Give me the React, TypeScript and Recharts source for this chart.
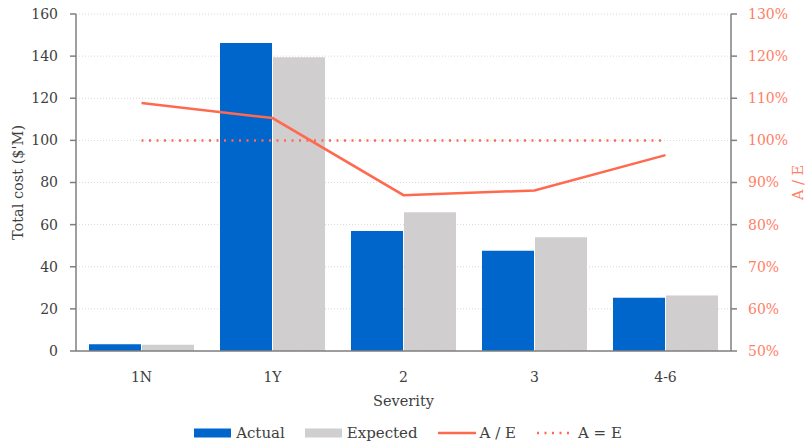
import {
  ComposedChart,
  Bar,
  Line,
  XAxis,
  YAxis,
  CartesianGrid,
  Legend,
} from 'recharts';

const categories = ['1N', '1Y', '2', '3', '4-6'];
const actual = [3.2, 146.2, 57, 47.6, 25.3];
const expected = [2.95, 139.5, 65.9, 54, 26.3];
const ratioPct = [108.9, 105.3, 87.0, 88.1, 96.5];
const parityPct = [100, 100, 100, 100, 100];

const leftTicks = [0, 20, 40, 60, 80, 100, 120, 140, 160];
const rightTicks = [50, 60, 70, 80, 90, 100, 110, 120, 130];

const data = categories.map((name, i) => ({
  name,
  actual: actual[i],
  expected: expected[i],
  ratio: ratioPct[i],
  parity: parityPct[i],
}));

const FONT = '"DejaVu Serif", serif';
const BLUE = '#0066CC';
const GREY = '#D0CECE';
const RED = '#FF6A4F';
const RED_TEXT = '#FF7E66';
const AXIS = '#7F7F7F';
const TEXT = '#404040';

// axis titles
const LeftTitle = ({ viewBox }: any) => {
  const cx = 18;
  const cy = viewBox.y + viewBox.height / 2;
  return (
    <text
      x={cx}
      y={cy}
      transform={`rotate(-90 ${cx} ${cy})`}
      textAnchor="middle"
      dominantBaseline="central"
      fontFamily={FONT}
      fontSize={14.5}
      fill={TEXT}
    >
      Total cost ($'M)
    </text>
  );
};

const RightTitle = ({ viewBox }: any) => {
  const cx = 798;
  const cy = viewBox.y + viewBox.height / 2;
  return (
    <text
      x={cx}
      y={cy}
      transform={`rotate(-90 ${cx} ${cy})`}
      textAnchor="middle"
      dominantBaseline="central"
      fontFamily={FONT}
      fontSize={14.5}
      fill={RED_TEXT}
    >
      A / E
    </text>
  );
};

const BottomTitle = ({ viewBox }: any) => (
  <text
    x={viewBox.x + viewBox.width / 2}
    y={viewBox.y + 55}
    textAnchor="middle"
    fontFamily={FONT}
    fontSize={14.5}
    fill={TEXT}
  >
    Severity
  </text>
);

const legendItems = [
  { name: 'Actual', kind: 'rect', color: BLUE },
  { name: 'Expected', kind: 'rect', color: GREY },
  { name: 'A / E', kind: 'line', color: RED },
  { name: 'A = E', kind: 'dots', color: RED },
];

const ChartLegend = () => (
  <div
    style={{
      display: 'flex',
      justifyContent: 'center',
      alignItems: 'center',
      height: 26,
      fontFamily: FONT,
      fontSize: 15,
      color: TEXT,
      paddingLeft: 8,
    }}
  >
    {legendItems.map((item) => (
      <div
        key={item.name}
        style={{ display: 'flex', alignItems: 'center', margin: '0 10px' }}
      >
        <svg width={38} height={12} style={{ marginRight: 4 }}>
          {item.kind === 'rect' && (
            <rect x={0} y={1.5} width={37} height={9} fill={item.color} />
          )}
          {item.kind === 'line' && (
            <line x1={0} y1={6} x2={38} y2={6} stroke={item.color} strokeWidth={2.5} />
          )}
          {item.kind === 'dots' && (
            <line
              x1={1}
              y1={6}
              x2={38}
              y2={6}
              stroke={item.color}
              strokeWidth={2.5}
              strokeDasharray="2 5.5"
            />
          )}
        </svg>
        <span>{item.name}</span>
      </div>
    ))}
  </div>
);

export default function App() {
  return (
    <div style={{ position: 'absolute', left: 0, top: 0, background: '#fff' }}>
      <ComposedChart
        width={808}
        height={448}
        data={data}
        margin={{ top: 14, right: 0, bottom: 2, left: 0 }}
        barSize={52}
        barGap={1}
      >
        <CartesianGrid
          vertical={false}
          stroke="#D9D9D9"
          strokeDasharray="1 2"
          yAxisId="left"
        />
        <XAxis
          dataKey="name"
          height={69}
          axisLine={{ stroke: AXIS, strokeWidth: 1.5 }}
          tickLine={false}
          tickMargin={15}
          tick={{ fontFamily: FONT, fontSize: 14, fill: TEXT }}
          label={<BottomTitle />}
        />
        <YAxis
          yAxisId="left"
          width={76}
          domain={[0, 160]}
          ticks={leftTicks}
          interval={0}
          axisLine={{ stroke: AXIS, strokeWidth: 1.5 }}
          tickLine={{ stroke: AXIS, strokeWidth: 1.5 }}
          tickSize={6}
          tickMargin={12}
          tick={{ fontFamily: FONT, fontSize: 14, fill: TEXT }}
          label={<LeftTitle />}
        />
        <YAxis
          yAxisId="right"
          orientation="right"
          width={77}
          domain={[50, 130]}
          ticks={rightTicks}
          interval={0}
          tickFormatter={(v: number) => `${v}%`}
          axisLine={{ stroke: AXIS, strokeWidth: 1.5 }}
          tickLine={{ stroke: AXIS, strokeWidth: 1.5 }}
          tickSize={6}
          tickMargin={11}
          tick={{ fontFamily: FONT, fontSize: 14, fill: RED_TEXT }}
          label={<RightTitle />}
        />
        <Legend verticalAlign="bottom" content={<ChartLegend />} />
        <Bar yAxisId="left" dataKey="actual" name="Actual" fill={BLUE} isAnimationActive={false} />
        <Bar yAxisId="left" dataKey="expected" name="Expected" fill={GREY} isAnimationActive={false} />
        <Line
          yAxisId="right"
          type="linear"
          dataKey="ratio"
          name="A / E"
          stroke={RED}
          strokeWidth={2.5}
          dot={false}
          activeDot={false}
          isAnimationActive={false}
        />
        <Line
          yAxisId="right"
          type="linear"
          dataKey="parity"
          name="A = E"
          stroke={RED}
          strokeWidth={2.5}
          strokeDasharray="2 5.5"
          dot={false}
          activeDot={false}
          isAnimationActive={false}
        />
      </ComposedChart>
    </div>
  );
}
